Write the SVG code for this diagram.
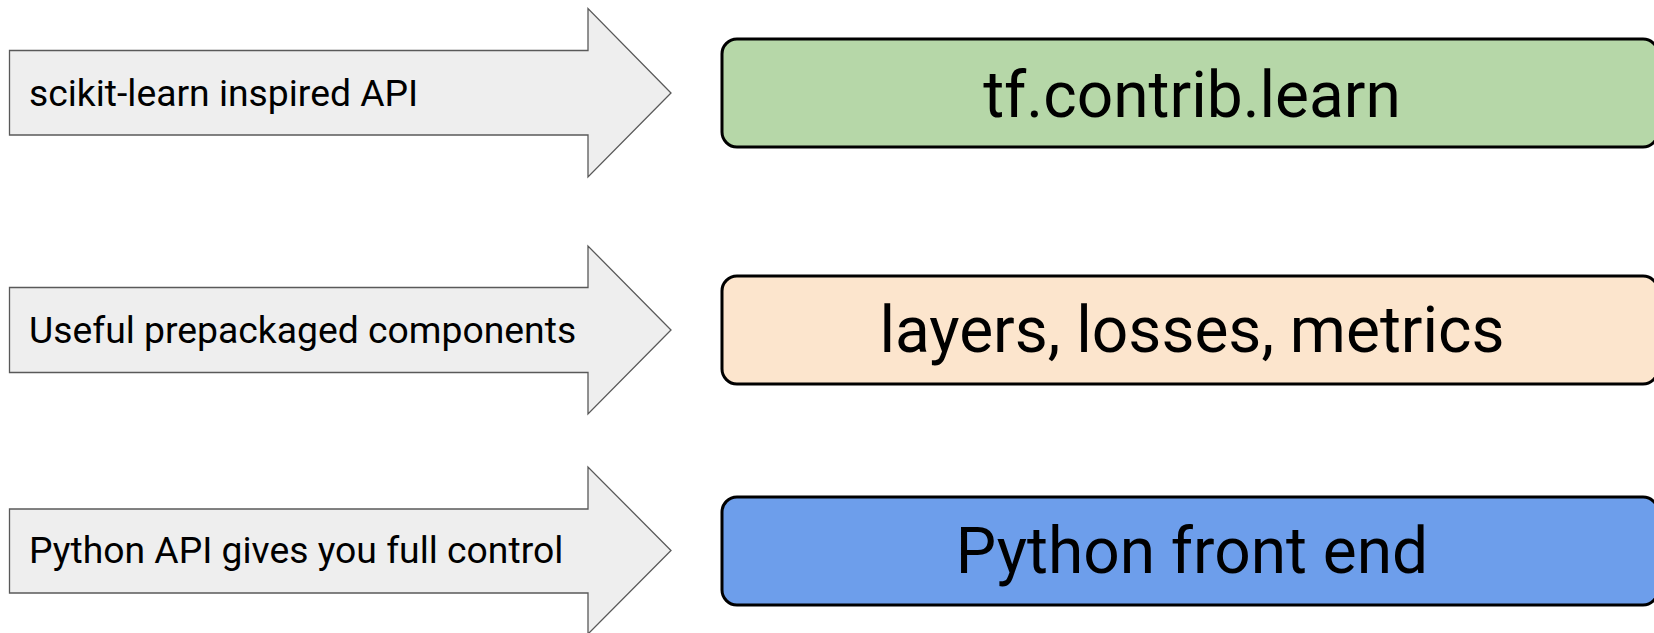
<svg xmlns="http://www.w3.org/2000/svg" width="1654" height="633" viewBox="0 0 1654 633">
  <style>
    .arrow { fill: #eeeeee; stroke: #595959; stroke-width: 1.3; stroke-linejoin: miter; }
    .arrow-label { font-family: Roboto, "Liberation Sans", sans-serif; font-size: 37.3px; fill: #000000; }
    .box { stroke: #000000; stroke-width: 3; }
    .box-label { font-family: Roboto, "Liberation Sans", sans-serif; font-size: 64px; fill: #000000; text-anchor: middle; }
  </style>
  <rect width="1654" height="633" fill="#ffffff"/>

  <!-- Explanatory block arrows -->
  <g id="arrow-sklearn">
    <polygon class="arrow" points="9.5,50.5 588,50.5 588,8.5 671,93 588,177 588,135 9.5,135"/>
    <text class="arrow-label" x="29" y="106">scikit-learn inspired API</text>
  </g>
  <g id="arrow-components">
    <polygon class="arrow" points="9.5,287.5 588,287.5 588,246 671,330 588,414 588,372.5 9.5,372.5"/>
    <text class="arrow-label" x="29" y="343">Useful prepackaged components</text>
  </g>
  <g id="arrow-python-api">
    <polygon class="arrow" points="9.5,509 588,509 588,467 671,550.5 588,634 588,593 9.5,593"/>
    <text class="arrow-label" x="29" y="563">Python API gives you full control</text>
  </g>

  <!-- Layer boxes -->
  <g id="layer-contrib-learn">
    <rect class="box" x="722" y="39" width="936" height="108" rx="15" fill="#b6d7a8"/>
    <text class="box-label" x="1192" y="117">tf.contrib.learn</text>
  </g>
  <g id="layer-components">
    <rect class="box" x="722" y="276" width="936" height="108" rx="15" fill="#fce5cd"/>
    <text class="box-label" x="1192" y="352">layers, losses, metrics</text>
  </g>
  <g id="layer-python-frontend">
    <rect class="box" x="722" y="497" width="936" height="108" rx="15" fill="#6d9eeb"/>
    <text class="box-label" x="1192" y="573">Python front end</text>
  </g>

  <!-- Connectors -->
  <g id="connectors"></g>
</svg>
